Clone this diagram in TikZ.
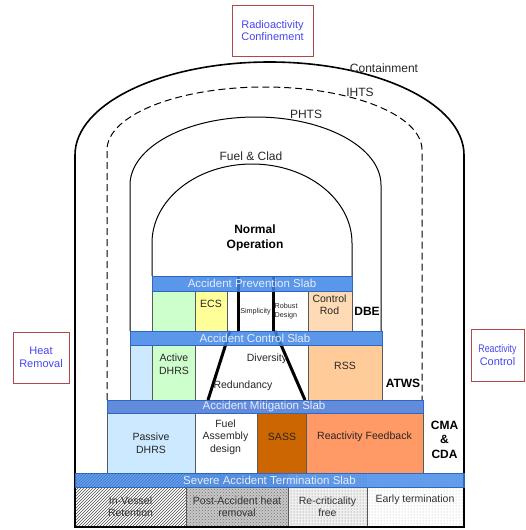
\documentclass[tikz,border=0pt]{standalone}
\usepackage{fontspec}
\setmainfont{Liberation Sans}
\usetikzlibrary{patterns}
\definecolor{slabblue}{HTML}{3D85E6}
\definecolor{slabdark}{HTML}{4677D6}
\definecolor{slabedge}{HTML}{2F66C0}
\definecolor{lblue}{HTML}{CCE9FF}
\definecolor{lgreen}{HTML}{CCFFCC}
\definecolor{lyellow}{HTML}{FFFF99}
\definecolor{peach}{HTML}{FFDBB5}
\definecolor{rssor}{HTML}{FFCC99}
\definecolor{sassor}{HTML}{CC6600}
\definecolor{rfor}{HTML}{FF9966}
\definecolor{framered}{HTML}{B04848}
\definecolor{ftext}{HTML}{4646F0}
\definecolor{slabtext}{HTML}{E6ECF8}
\begin{document}
\begin{tikzpicture}[x=1pt,y=-1pt,
  cell/.style={draw=black!65,line width=0.6pt},
  outline/.style={draw=black,line width=1pt},
  slab/.style={draw=slabedge,line width=0.5pt,fill=slabblue,fill opacity=0.85},
  slabtxt/.style={font=\fontsize{11.5}{13}\selectfont,text=slabtext,inner sep=0pt},
  lbl/.style={font=\fontsize{12}{14}\selectfont,text=black!85,inner sep=0pt},
  txt/.style={font=\fontsize{10.5}{12.5}\selectfont,align=center,text=black!85,inner sep=0pt},
  tiny/.style={font=\fontsize{7.2}{9}\selectfont,align=left,text=black!85,inner sep=0pt},
  bold/.style={font=\fontsize{12}{14.5}\selectfont\bfseries,align=center,text=black,inner sep=0pt},
  goal/.style={draw=framered,line width=0.8pt,fill=white,font=\fontsize{11}{12.5}\selectfont,align=center,text=ftext,inner sep=0pt},
  bottxt/.style={font=\fontsize{10.5}{12.5}\selectfont,align=center,text=black!80,inner sep=0pt},
  heavy/.style={draw=black,line width=3pt}
]
\useasboundingbox (0,0) rectangle (525,530);

% ---------- Row A (under prevention slab)
\path[cell,fill=lgreen] (152,291) rectangle (195,331);
\path[cell,fill=lyellow] (195,291) rectangle (227,331);
\path[cell,fill=white] (227,291) rectangle (238,331);
\path[cell,fill=white] (238,291) rectangle (273,331);
\path[cell,fill=white] (273,291) rectangle (308,331);
\path[cell,fill=peach] (308,291) rectangle (352,331);

% ---------- Row B (under control slab)
\path[cell,fill=lblue] (130,345) rectangle (152,400);
\path[cell,fill=lgreen] (152,345) rectangle (195,400);
\path[cell,fill=white] (195,345) rectangle (308,400);
\path[cell,fill=rssor] (308,345) rectangle (382,400);

% ---------- Row C (under mitigation slab)
\path[cell,fill=lblue] (107,413) rectangle (195,473);
\path[cell,fill=white] (195,413) rectangle (257,473);
\path[cell,fill=sassor] (257,413) rectangle (306,473);
\path[cell,fill=rfor] (306,413) rectangle (423,473);
\path[cell] (423,413) -- (423,473);

% ---------- Row D (severe accident termination)
\path[pattern=north east lines,pattern color=black!70] (75,473) rectangle (186,527);
\path[fill=black!22] (186,473) rectangle (288,527);
\path[pattern=crosshatch dots,pattern color=black!55] (186,473) rectangle (288,527);
\path[fill=black!6] (288,473) rectangle (367,527);
\path[pattern=dots,pattern color=black!55] (288,473) rectangle (367,527);
\path[pattern=dots,pattern color=black!30] (367,473) rectangle (464,527);
\path[cell] (186,487) -- (186,527);
\path[cell] (288,487) -- (288,527);
\path[cell] (367,487) -- (367,527);

% ---------- heavy lines (simplicity / diversity)
\coordinate (v1t) at (238,276); \coordinate (v1b) at (238,331);
\coordinate (v2t) at (273,276); \coordinate (v2b) at (273,331);
\coordinate (d1t) at (230,331); \coordinate (d1b) at (208,400);
\coordinate (d2t) at (275,331); \coordinate (d2b) at (305,400);
\draw[heavy] (v1t) -- (v1b);
\draw[heavy] (v2t) -- (v2b);
\draw[heavy] (d1t) -- (d1b);
\draw[heavy] (d2t) -- (d2b);

% ---------- boundary outlines
\draw[draw=black,line width=1.6pt] (75,527) -- (75,155)
   arc[start angle=180,end angle=0,x radius=194.5pt,y radius=93pt] -- (464,527) -- cycle;
\draw[outline,dash pattern=on 7pt off 4pt] (107,400) -- (107,150)
   arc[start angle=180,end angle=0,x radius=157.5pt,y radius=63pt] -- (422,400);
\draw[outline] (130,331) -- (130,185)
   arc[start angle=180,end angle=0,x radius=125.5pt,y radius=68pt] -- (381,331);
\draw[outline] (152,276) -- (152,243)
   arc[start angle=180,end angle=0,x radius=100pt,y radius=79pt] -- (352,276);
\draw[cell] (75,487) -- (464,487);

% ---------- slabs
\path[slab] (152,276) rectangle (352,291);
\path[slab] (130,331) rectangle (382,345);
\path[slab,fill=slabdark] (107,400) rectangle (423,413);
\path[slab,fill opacity=0.8] (75,473) rectangle (464,487);
\node[slabtxt] (aps) at (252,283.5) {Accident Prevention Slab};
\node[slabtxt] (acs) at (255,338) {Accident Control Slab};
\node[slabtxt] (ams) at (264,406.5) {Accident Mitigation Slab};
\node[slabtxt] (sats) at (269.5,480) {Severe Accident Termination Slab};

% ---------- boundary labels
\node[lbl] (lcont) at (384,68) {Containment};
\node[lbl] (lihts) at (360,92) {IHTS};
\node[lbl] (lphts) at (306,114) {PHTS};
\node[lbl] (lfuel) at (251,156) {Fuel \& Clad};
\node[bold] (lnorm) at (255,238) {Normal\\Operation};

% ---------- cell texts
\node[txt] (tecs) at (211,304) {ECS};
\node[tiny] (tsimp) at (255.5,311.5) {Simplicity};
\node[tiny,anchor=west] (trob) at (274.5,311.5) {Robust\\Design};
\node[txt] (tcr) at (329.5,304.5) {Control\\Rod};
\node[bold] (tdbe) at (367,311.5) {DBE};
\node[txt] (tadh) at (174,364) {Active\\DHRS};
\node[txt] (tdiv) at (267,359) {Diversity};
\node[txt] (tred) at (243,385.5) {Redundancy};
\node[txt] (trss) at (345,366) {RSS};
\node[bold] (tatws) at (403,383.5) {ATWS};
\node[txt] (tpdh) at (151,443) {Passive\\DHRS};
\node[txt] (tfad) at (225.5,437) {Fuel\\Assembly\\design};
\node[txt] (tsass) at (282,437) {SASS};
\node[txt] (trf) at (364.5,437) {Reactivity Feedback};
\node[bold] (tcma) at (444.5,439.5) {CMA\\\&\\CDA};
\node[bottxt] (tivr) at (130.5,506.5) {In-Vessel\\Retention};
\node[bottxt] (tpah) at (237,506.5) {Post-Accident heat\\removal};
\node[bottxt] (trcf) at (327.5,506.5) {Re-criticality\\free};
\node[bottxt] (tet) at (415,500) {Early termination};

% ---------- goal boxes
\node[goal,minimum width=81pt,minimum height=51pt] (grc) at (272.5,30.5) {Radioactivity\\Confinement};
\node[goal,minimum width=56pt,minimum height=51pt] (ghr) at (41,357.5) {Heat\\Removal};
\node[goal,minimum width=53pt,minimum height=52pt] (grctl) at (497.5,355) {\scalebox{0.8}[1]{Reactivity}\\Control};
\end{tikzpicture}
\end{document}
